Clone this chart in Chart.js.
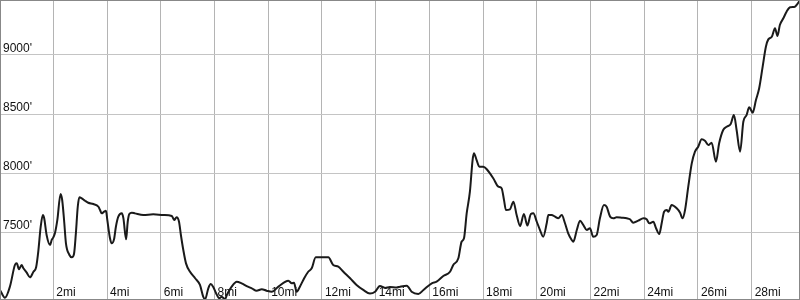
<!DOCTYPE html>
<html>
<head>
<meta charset="utf-8">
<script src="https://cdn.jsdelivr.net/npm/chart.js@4"></script>
<style>
  html, body { margin: 0; padding: 0; background: #fff; }
  #wrap { width: 800px; height: 300px; }
</style>
</head>
<body>
<div id="wrap"><canvas id="profile" width="800" height="300"></canvas></div>
<script>
// trail profile, distance in miles / elevation in feet
const miles = [
  0.02, 0.20, 0.39, 0.57, 0.64, 0.72, 0.82, 0.88, 1.01, 1.13,
  1.26, 1.36, 1.44, 1.53, 1.61, 1.66, 1.75, 1.88, 1.94, 2.00,
  2.06, 2.15, 2.27, 2.33, 2.40, 2.47, 2.60, 2.69, 2.77, 2.84,
  2.91, 2.97, 3.06, 3.18, 3.30, 3.49, 3.68, 3.74, 3.80, 3.89,
  3.96, 4.01, 4.11, 4.17, 4.26, 4.33, 4.42, 4.55, 4.61, 4.71,
  4.77, 4.83, 4.92, 5.04, 5.35, 5.72, 6.10, 6.41, 6.50, 6.59,
  6.68, 6.75, 6.84, 6.94, 7.09, 7.28, 7.46, 7.58, 7.65, 7.77,
  7.86, 7.96, 8.06, 8.18, 8.27, 8.39, 8.46, 8.64, 8.83, 9.01,
  9.20, 9.39, 9.57, 9.76, 9.94, 10.13, 10.38, 10.75, 10.88, 10.96,
  11.06, 11.18, 11.34, 11.49, 11.62, 11.77, 11.99, 12.24, 12.42, 12.61,
  12.80, 13.05, 13.29, 13.54, 13.79, 13.98, 14.16, 14.35, 14.53, 14.78,
  14.91, 15.16, 15.34, 15.59, 15.78, 16.09, 16.27, 16.52, 16.77, 16.89,
  17.08, 17.20, 17.29, 17.39, 17.51, 17.61, 17.66, 17.76, 17.86, 18.01,
  18.16, 18.38, 18.57, 18.69, 18.78, 18.85, 19.00, 19.13, 19.25, 19.38,
  19.52, 19.65, 19.78, 19.87, 20.00, 20.12, 20.24, 20.37, 20.43, 20.55,
  20.68, 20.80, 20.93, 21.05, 21.17, 21.30, 21.36, 21.49, 21.61, 21.73,
  21.86, 21.98, 22.10, 22.23, 22.35, 22.50, 22.60, 22.73, 22.85, 22.97,
  23.16, 23.35, 23.47, 23.59, 23.78, 23.97, 24.09, 24.19, 24.34, 24.44,
  24.56, 24.65, 24.74, 24.84, 24.90, 25.02, 25.21, 25.33, 25.43, 25.52,
  25.64, 25.77, 25.89, 26.01, 26.14, 26.26, 26.39, 26.51, 26.67, 26.79,
  26.94, 27.07, 27.22, 27.34, 27.44, 27.57, 27.69, 27.81, 27.91, 28.04,
  28.16, 28.28, 28.41, 28.53, 28.62, 28.75, 28.87, 28.96, 29.05, 29.18,
  29.30, 29.43, 29.61, 29.70, 29.82
];
const elevation = [
  7010, 6946, 7045, 7223, 7237, 7187, 7223, 7198, 7158, 7119,
  7166, 7204, 7336, 7547, 7646, 7618, 7477, 7392, 7435, 7457,
  7491, 7604, 7824, 7773, 7604, 7407, 7308, 7288, 7316, 7491,
  7716, 7796, 7787, 7767, 7750, 7739, 7716, 7688, 7660, 7674,
  7682, 7604, 7449, 7407, 7440, 7547, 7632, 7660, 7618, 7440,
  7589, 7655, 7666, 7660, 7646, 7652, 7646, 7638, 7604, 7627,
  7589, 7477, 7350, 7237, 7166, 7111, 7054, 6955, 6933, 7026,
  7062, 7034, 6984, 6941, 6955, 6933, 6969, 7040, 7082, 7068,
  7045, 7026, 7006, 7018, 7006, 6997, 7040, 7090, 7068, 7073,
  6997, 7040, 7111, 7166, 7195, 7288, 7288, 7288, 7223, 7209,
  7166, 7111, 7054, 7012, 6982, 6997, 7045, 7029, 7037, 7033,
  7040, 7048, 6997, 6978, 7012, 7068, 7082, 7130, 7166, 7223,
  7280, 7420, 7449, 7660, 7843, 8111, 8168, 8111, 8055, 8055,
  8027, 7957, 7886, 7872, 7773, 7688, 7694, 7759, 7646, 7553,
  7655, 7557, 7655, 7660, 7589, 7519, 7462, 7576, 7646, 7646,
  7632, 7618, 7646, 7576, 7491, 7435, 7420, 7519, 7598, 7562,
  7519, 7534, 7462, 7477, 7618, 7731, 7716, 7632, 7618, 7627,
  7623, 7618, 7610, 7581, 7598, 7618, 7610, 7576, 7589, 7534,
  7485, 7576, 7674, 7688, 7674, 7731, 7703, 7667, 7618, 7688,
  7886, 8083, 8182, 8224, 8287, 8275, 8238, 8258, 8097, 8253,
  8365, 8393, 8416, 8492, 8365, 8182, 8435, 8492, 8557, 8512,
  8619, 8718, 8901, 9070, 9132, 9154, 9226, 9160, 9253, 9310,
  9366, 9403, 9408, 9431, 9470
];
const mileTicks = [2, 4, 6, 8, 10, 12, 14, 16, 18, 20, 22, 24, 26, 28];
const footTicks = [7500, 8000, 8500, 9000];

const profileLabels = {
  id: 'profileLabels',
  beforeDatasetsDraw(chart) {
    const { ctx, chartArea, scales: { x, y } } = chart;
    ctx.save();
    ctx.font = '12px "Liberation Sans", Arial, sans-serif';
    ctx.fillStyle = '#111';
    ctx.textBaseline = 'alphabetic';
    mileTicks.forEach(m => ctx.fillText(m + 'mi', x.getPixelForValue(m) + 3, chartArea.bottom - 4));
    footTicks.forEach(f => ctx.fillText(f + "'", chartArea.left + 3, y.getPixelForValue(f) - 3));
    ctx.restore();
  },
  afterDraw(chart) {
    const { ctx, chartArea: a } = chart;
    ctx.save();
    ctx.strokeStyle = '#888';
    ctx.lineWidth = 1;
    ctx.strokeRect(a.left + 0.5, a.top + 0.5, a.right - a.left - 1, a.bottom - a.top - 1);
    ctx.restore();
  }
};

new Chart(document.getElementById('profile'), {
  type: 'line',
  data: {
    datasets: [{
      data: miles.map((m, i) => ({ x: m, y: elevation[i] })),
      borderColor: '#1a1a1a',
      borderWidth: 2,
      pointRadius: 0,
      cubicInterpolationMode: 'monotone',
      fill: false
    }]
  },
  options: {
    responsive: false,
    animation: false,
    devicePixelRatio: 1,
    layout: { padding: 0 },
    plugins: { legend: { display: false }, tooltip: { enabled: false } },
    scales: {
      x: {
        type: 'linear', min: 0.015, max: 29.8,
        afterBuildTicks: s => { s.ticks = mileTicks.map(v => ({ value: v })); },
        ticks: { display: false },
        grid: { color: '#b4b4b4', drawTicks: false },
        border: { display: false }
      },
      y: {
        type: 'linear', min: 6927, max: 9465,
        afterBuildTicks: s => { s.ticks = footTicks.map(v => ({ value: v })); },
        ticks: { display: false },
        grid: { color: '#c4c4c4', drawTicks: false },
        border: { display: false }
      }
    }
  },
  plugins: [profileLabels]
});
</script>
</body>
</html>
